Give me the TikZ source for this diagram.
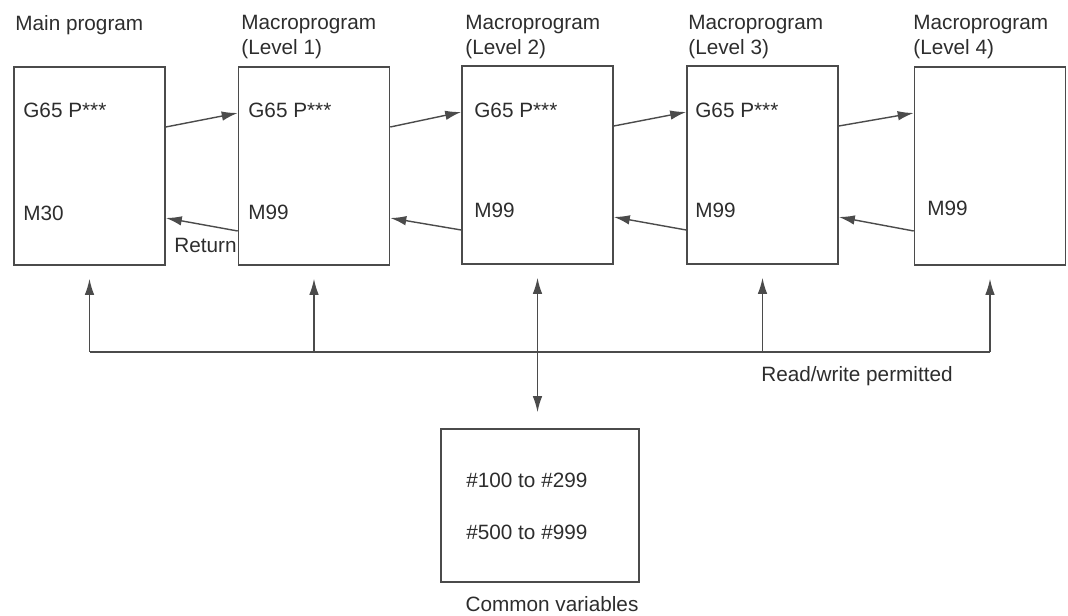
\documentclass[tikz,border=0pt]{standalone}
\usepackage{fontspec}
\setmainfont{Liberation Sans}
\usetikzlibrary{arrows.meta}

\definecolor{inkgray}{RGB}{75, 75, 75}
\definecolor{textgray}{RGB}{45, 45, 45}

\tikzset{
  prog/.style={draw=inkgray, line width=0.9pt, minimum width=30.2mm, minimum height=39.6mm, inner sep=0pt},
  code/.style={anchor=west, inner sep=0pt, text=textgray},
  title/.style={anchor=north west, align=left, inner sep=0pt, text=textgray},
  flow/.style={draw=inkgray, line width=0.8pt, -{Latex[length=3.2mm,width=1.9mm]}},
  both/.style={draw=inkgray, line width=0.8pt, {Latex[length=3.2mm,width=1.9mm]}-{Latex[length=3.2mm,width=1.9mm]}},
  wire/.style={draw=inkgray, line width=0.8pt},
}

\begin{document}
\begin{tikzpicture}[x=0.2mm, y=-0.2mm, font=\fontsize{11.8}{14.2}\selectfont]
    \useasboundingbox (0,0) rectangle (1068,616);

    % Program boxes
    \node[prog] (main) at (89.5,166) {};
    \node[prog] (lv1) at (314,166) {};
    \node[prog] (lv2) at (537.5,165) {};
    \node[prog] (lv3) at (762.5,165) {};
    \node[prog] (lv4) at (990,166) {};

    % Titles
    \node[title] (mainT) at (15,15) {Main program};
    \node[title] (lv1T) at (241,15) {Macroprogram\\(Level 1)};
    \node[title] (lv2T) at (465,15) {Macroprogram\\(Level 2)};
    \node[title] (lv3T) at (688,15) {Macroprogram\\(Level 3)};
    \node[title] (lv4T) at (913,15) {Macroprogram\\(Level 4)};

    % Box contents
    \node[code] (mainG) at (23,110) {G65 P***};
    \node[code] (mainM) at (23,213) {M30};
    \node[code] (lv1G) at (248,110) {G65 P***};
    \node[code] (lv1M) at (248,212) {M99};
    \node[code] (lv2G) at (474,110) {G65 P***};
    \node[code] (lv2M) at (474,210) {M99};
    \node[code] (lv3G) at (695,110) {G65 P***};
    \node[code] (lv3M) at (695,210) {M99};
    \node[code] (lv4M) at (927,208) {M99};

    % Calls
    \draw[flow] ([yshift=7.8mm]main.east) -- ([yshift=10.6mm]lv1.west);
    \draw[flow] ([yshift=7.8mm]lv1.east) -- ([yshift=10.6mm]lv2.west);
    \draw[flow] ([yshift=7.8mm]lv2.east) -- ([yshift=10.6mm]lv3.west);
    \draw[flow] ([yshift=7.8mm]lv3.east) -- ([yshift=10.6mm]lv4.west);

    % Returns
    \draw[flow] ([yshift=-13mm]lv1.west) -- ([yshift=-10.4mm]main.east);
    \draw[flow] ([yshift=-13mm]lv2.west) -- ([yshift=-10.4mm]lv1.east);
    \draw[flow] ([yshift=-13mm]lv3.west) -- ([yshift=-10.4mm]lv2.east);
    \draw[flow] ([yshift=-13mm]lv4.west) -- ([yshift=-10.4mm]lv3.east);
    \node[code, anchor=east] (ret) at (237,245) {Return};

    % Common variables
    \node[prog, minimum width=39.6mm, minimum height=30.6mm] (common) at (540,505.5) {};
    \node[code] (varA) at (466,480) {\#100 to \#299};
    \node[code] (varB) at (466,532) {\#500 to \#999};
    \node[text=textgray] (commonT) at (552,604) {Common variables};

    % Read/write bus
    \draw[wire] (main.south |- 0,352) coordinate (busL) -- (lv4.south |- 0,352) coordinate (busR);
    \coordinate (bus1) at (lv1.south |- busL);
    \coordinate (bus3) at (lv3.south |- busL);
    \draw[flow, shorten >=2.6mm] (busL) -- (main.south);
    \draw[flow, shorten >=2.6mm] (bus1) -- (lv1.south);
    \draw[flow, shorten >=2.6mm] (bus3) -- (lv3.south);
    \draw[flow, shorten >=2.6mm] (busR) -- (lv4.south);
    \draw[both, shorten <=2.6mm, shorten >=3.2mm] (lv2.south) -- (lv2.south |- common.north);
    \node[text=textgray] (rw) at (857,376) {Read/write permitted};
\end{tikzpicture}
\end{document}
